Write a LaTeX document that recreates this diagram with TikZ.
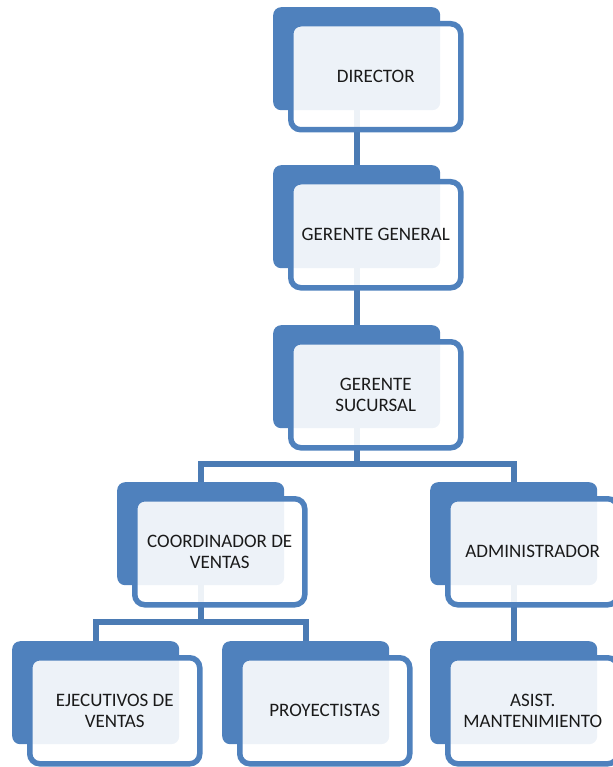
\documentclass[tikz,border=0pt]{standalone}
\usepackage{fontspec}
\setmainfont{Carlito}
\usetikzlibrary{calc,backgrounds}
\definecolor{orgblue}{HTML}{4F81BD}
\definecolor{orgtext}{HTML}{1A1A1A}
\tikzset{
  backbox/.style = {fill = orgblue, rounded corners = 8pt, minimum width = 167pt,
    minimum height = 103pt, anchor = north west, inner sep = 0pt},
  frontbox/.style = {draw = orgblue, line width = 5.5pt, fill = white, fill opacity = .9,
    text opacity = 1, rounded corners = 10pt, minimum width = 170pt, minimum height = 106pt,
    anchor = north west, align = center, text = orgtext,
    font = \fontsize{19}{21}\selectfont},
  conn/.style = {draw = orgblue!95!black, line width = 6pt}
}
% back box + front box with the text
\newcommand{\orgbox}[4]{%
  \node[backbox] (#1) at (#2,#3) {};
  \node[frontbox] (#1-f) at ($(#1.north west)+(15,14)$) {#4};
}
\begin{document}
\begin{tikzpicture}[x = 1pt, y = -1pt]
	\useasboundingbox (0,0) rectangle (612,767);
	\orgbox{dir}{273}{7}{DIRECTOR}
	\orgbox{gg}{273}{165}{GERENTE GENERAL}
	\orgbox{gs}{273}{325}{GERENTE\\SUCURSAL}
	\orgbox{coord}{117}{482}{COORDINADOR DE\\VENTAS}
	\orgbox{admin}{430}{482}{ADMINISTRADOR}
	\orgbox{ejec}{12}{641}{EJECUTIVOS DE\\VENTAS}
	\orgbox{proy}{222}{641}{PROYECTISTAS}
	\orgbox{asist}{430}{641}{ASIST.\\MANTENIMIENTO}
	\coordinate (bus1) at ($(gs.south)+(0,36)$);
	\coordinate (bus2) at ($(coord.south)+(0,37)$);
	\begin{scope}[on background layer]
		\draw[conn] (dir.south) -- (gg.north);
		\draw[conn] (gg.south) -- (gs.north);
		\draw[conn] (gs.south) -- (bus1);
		\draw[conn] (coord.north) |- (bus1) -| (admin.north);
		\draw[conn] (coord.south) -- (bus2);
		\draw[conn] (ejec.north) |- (bus2) -| (proy.north);
		\draw[conn] (admin.south) -- (asist.north);
	\end{scope}
\end{tikzpicture}
\end{document}
